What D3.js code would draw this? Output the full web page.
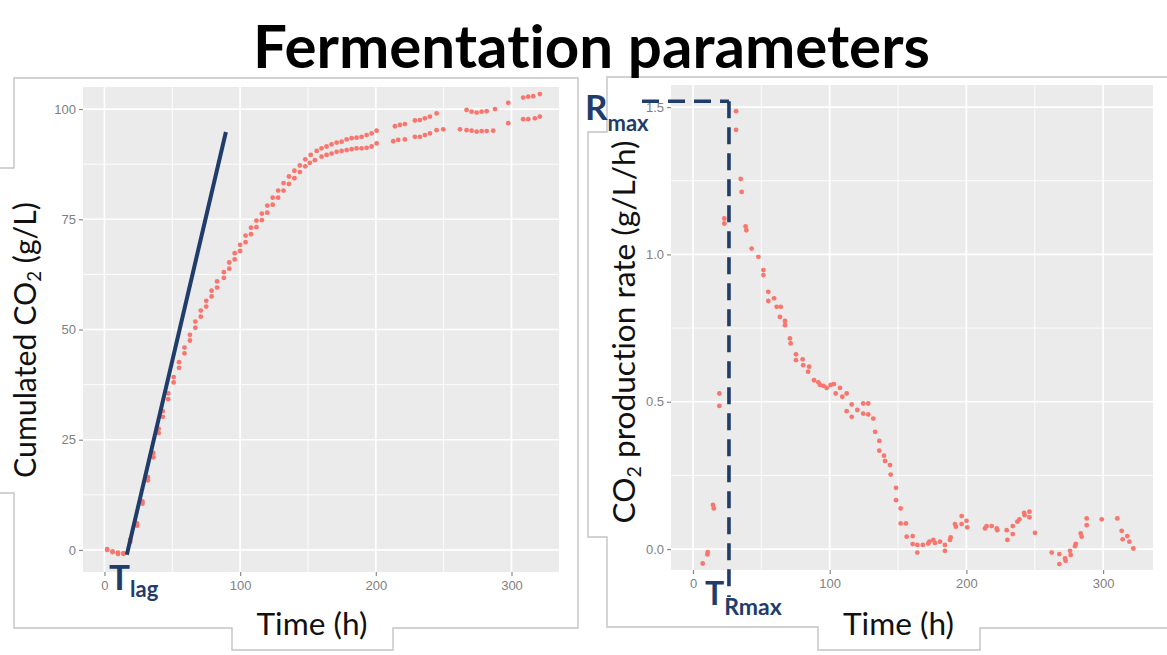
<!DOCTYPE html>
<html><head><meta charset="utf-8">
<script src="https://cdn.jsdelivr.net/npm/d3@7"></script>
<style>html,body{margin:0;padding:0;background:#fff;overflow:hidden} text{font-variant-ligatures:none;font-feature-settings:"liga" 0,"clig" 0}</style>
</head><body>
<svg id="chart" width="1167" height="655"></svg>
<script>
// ---------------- DATA ----------------
const chartTitle = "Fermentation parameters";
// Cumulated CO2 (g/L), replicate 1 (upper at end)
const cumTime1 = [2,6,10,14,19,24,28,32,36,40,43,47,51,55,59,63,67,71,75,79,83,88,92,96,100,104,108,112,116,120,124,128,132,136,140,144,148,152,156.4,160,163.7,167.4,171.1,174.8,178.5,182.2,185.8,189.5,193.2,196.9,200.6,214.1,217.8,221.4,228.8,232.5,236.2,239.9,244.8,266.9,270.6,274.3,278,281.7,287.8,297.6,308.6,312.3,316,320.9];
const cumVal1  = [0.2,-0.3,-0.6,-0.9,2.3,6,11,16.5,22,27.5,31.5,35.5,39.2,42.6,45.9,48.8,51.8,54.3,56.5,58.8,60.9,63,65.2,67.3,69.2,71.3,73.1,74.7,76.3,78.1,79.9,81.5,83.2,84.7,86,87.2,88.6,89.6,90.5,91.1,91.5,92.0,92.4,92.6,93.1,93.4,93.5,93.7,94.1,94.5,95.1,96.1,96.4,96.6,97.4,97.5,97.9,98.3,99.0,99.8,99.4,99.2,99.4,99.5,100.0,101.4,102.6,102.8,102.9,103.4];
// Cumulated CO2 (g/L), replicate 2 (lower at end)
const cumTime2 = [2,6,10,14,19,24,28,32,36,40,43,47,51,55,59,63,67,71,75,79,83,88,92,96,100,104,108,112,116,120,124,128,132,136,140,144,148,151.4,155.1,160,163.7,167.4,171.1,174.8,178.5,182.2,185.8,189.5,193.2,196.9,200.6,212.8,216.5,221.4,228.8,232.5,236.2,239.9,244.8,249.7,262,266.9,270.6,274.3,278,281.7,286.5,297.6,308.6,312.3,317.2,320.9];
const cumVal2  = [0,-0.5,-0.9,-0.7,1.8,5.5,10.5,15.8,21,26.5,30.2,34.2,38,41.3,44.6,47.5,50.4,52.9,55.2,57.5,59.5,61.7,63.8,65.9,67.8,69.8,71.6,73.2,74.8,76.5,78.3,79.9,81.5,83,84.3,85.7,87,87.8,88.4,89.2,89.6,89.9,90.3,90.5,90.7,90.9,91.1,91.1,91.2,91.5,92.2,92.7,93.0,93.1,93.7,93.7,94.1,94.5,95.2,95.4,95.4,95.2,95.1,94.9,95.0,95.0,95.1,96.8,97.7,97.7,97.9,98.3];
// Tangent line for T_lag: [time, value] end points
const lagLineTime = [16.5, 89.5];
const lagLineVal  = [-1.1, 94.8];
// CO2 production rate (g/L/h)
const rateTime = [7.1,10.5,10.8,14.6,15.2,19.3,19.3,22.9,22.9,31.5,31.5,34.9,35.6,38.5,39.0,42.9,47.8,51.5,51.5,55.1,55.1,59.3,61.2,64.2,63.6,67.3,67.3,70.9,71.4,75.3,75.3,80.2,80.6,85.0,84.2,88.5,91.7,92.9,95.4,97.8,100.7,103.1,104.4,107.5,109.2,112.4,112.4,116.1,116.1,120.2,124.5,124.5,128.2,128.2,131.9,133.2,136.3,136.3,139.7,140.5,144.1,144.6,148.5,148.5,151.9,151.9,155.8,156.3,160.7,160.7,164.1,164.1,168.1,172.1,172.9,175.8,177.0,180.7,184.3,184.3,188.0,188.5,191.6,192.3,196.5,196.5,200.1,200.6,213.6,214.8,218.5,222.2,222.6,229.5,230.0,233.9,233.9,237.3,238.8,242.2,242.6,246.1,246.1,250.2,262.4,268.0,268.0,272.2,272.6,275.8,276.3,279.5,280.0,283.6,284.3,288.0,288.0,299.0,310.4,313.6,314.3,317.7,319.2,322.1];
const rateVal  = [-0.049,-0.018,-0.010,0.150,0.138,0.528,0.486,1.122,1.105,1.486,1.423,1.256,1.212,1.095,1.082,1.020,0.992,0.947,0.930,0.873,0.842,0.851,0.822,0.822,0.788,0.774,0.760,0.715,0.698,0.661,0.641,0.644,0.624,0.619,0.602,0.573,0.566,0.557,0.554,0.547,0.557,0.560,0.528,0.547,0.517,0.528,0.468,0.491,0.449,0.472,0.494,0.460,0.494,0.457,0.443,0.398,0.367,0.334,0.317,0.299,0.285,0.253,0.208,0.166,0.138,0.087,0.087,0.042,0.044,0.017,0.014,-0.012,0.014,0.019,0.025,0.031,0.021,0.025,0.014,-0.006,0.031,0.040,0.085,0.076,0.112,0.085,0.096,0.074,0.070,0.078,0.078,0.070,0.064,0.064,0.031,0.078,0.051,0.093,0.101,0.123,0.115,0.127,0.108,0.055,-0.012,-0.017,-0.051,-0.032,-0.040,-0.006,-0.020,0.010,0.018,0.053,0.042,0.104,0.081,0.101,0.104,0.062,0.033,0.044,0.025,0.002];
// Rmax / T_Rmax markers
const rMax = 1.52;
const tRmax = 26.3;
// Axis ticks
const xTicks = [0,100,200,300];
const xMinor = [50,150,250];
const cumTicks = [0,25,50,75,100];
const cumMinor = [12.5,37.5,62.5,87.5];
const rateTicks = [0,0.5,1.0,1.5];
const rateTickLabels = ["0.0","0.5","1.0","1.5"];
const rateMinor = [0.25,0.75,1.25];

// ---------------- DRAW ----------------
const svg = d3.select("#chart");
const NAVY = "#1f3c6b", PT = "#F8766D", BG = "#EBEBEB", FRAME = "#c3c3c3";
const TXTFONT = "Lato, 'Open Sans', sans-serif";
const TICKFONT = "'Liberation Sans', Arial, sans-serif";

// frames (slide boxes)
svg.append("path")
  .attr("d","M14,78 H578 V628 H393 V650 H232 V628 H14 V493 H-2 V168 H14 Z")
  .attr("fill","#fff").attr("stroke",FRAME).attr("stroke-width",1.4);
svg.append("path")
  .attr("d","M607,77 H1172 V628 H980 V650 H818 V627 H607 V537 H588 V132 H607 Z")
  .attr("fill","#fff").attr("stroke",FRAME).attr("stroke-width",1.4);

function panel(cfg){
  const g = svg.append("g");
  const [x0,x1] = cfg.x.range(), [y1,y0] = cfg.y.range();
  g.append("rect").attr("x",x0).attr("y",y0).attr("width",x1-x0).attr("height",y1-y0).attr("fill",BG);
  g.selectAll(".vmin").data(cfg.xMinor).join("line")
    .attr("x1",d=>cfg.x(d)).attr("x2",d=>cfg.x(d)).attr("y1",y0).attr("y2",y1)
    .attr("stroke","#fff").attr("stroke-width",0.9);
  g.selectAll(".hmin").data(cfg.yMinor).join("line")
    .attr("y1",d=>cfg.y(d)).attr("y2",d=>cfg.y(d)).attr("x1",x0).attr("x2",x1)
    .attr("stroke","#fff").attr("stroke-width",0.9);
  g.selectAll(".vmaj").data(cfg.xTicks).join("line")
    .attr("x1",d=>cfg.x(d)).attr("x2",d=>cfg.x(d)).attr("y1",y0).attr("y2",y1)
    .attr("stroke","#fff").attr("stroke-width",1.7);
  g.selectAll(".hmaj").data(cfg.yTicks).join("line")
    .attr("y1",d=>cfg.y(d)).attr("y2",d=>cfg.y(d)).attr("x1",x0).attr("x2",x1)
    .attr("stroke","#fff").attr("stroke-width",1.7);
  const ax = svg.append("g").attr("transform",`translate(0,${y1})`)
    .call(d3.axisBottom(cfg.x).tickValues(cfg.xTicks).tickSize(4).tickPadding(5).tickFormat(d3.format("d")));
  const ay = svg.append("g").attr("transform",`translate(${x0},0)`)
    .call(d3.axisLeft(cfg.y).tickValues(cfg.yTicks).tickSize(4).tickPadding(3).tickFormat((d,i)=>cfg.yLabels[i]));
  [ax,ay].forEach(a=>{
    a.select(".domain").remove();
    a.selectAll(".tick line").attr("stroke","#8a8a8a").attr("stroke-width",1.2);
    a.selectAll(".tick text").attr("fill","#7f7f7f").attr("font-size",13).attr("font-family",TICKFONT);
  });
  return g;
}

// ----- Left panel -----
const xL = d3.scaleLinear().domain([-15.8,335]).range([83,559]);
const yL = d3.scaleLinear().domain([-5,105]).range([572,87]);
const gL = panel({x:xL,y:yL,xTicks,xMinor,yTicks:cumTicks,yMinor:cumMinor,yLabels:cumTicks.map(String)});
const rep1 = cumTime1.map((t,i)=>({t,v:cumVal1[i]}));
const rep2 = cumTime2.map((t,i)=>({t,v:cumVal2[i]}));
gL.selectAll(".p1").data(rep1).join("circle").attr("cx",d=>xL(d.t)).attr("cy",d=>yL(d.v)).attr("r",2.4).attr("fill",PT);
gL.selectAll(".p2").data(rep2).join("circle").attr("cx",d=>xL(d.t)).attr("cy",d=>yL(d.v)).attr("r",2.4).attr("fill",PT);
gL.append("path")
  .attr("d", d3.line().x(d=>xL(d[0])).y(d=>yL(d[1]))(lagLineTime.map((t,i)=>[t,lagLineVal[i]])))
  .attr("stroke",NAVY).attr("stroke-width",4).attr("fill","none");

// ----- Right panel -----
const xR = d3.scaleLinear().domain([-16.1,336.5]).range([671,1153]);
const yR = d3.scaleLinear().domain([-0.071,1.575]).range([570,85]);
const gR = panel({x:xR,y:yR,xTicks,xMinor,yTicks:rateTicks,yMinor:rateMinor,yLabels:rateTickLabels});
const rate = rateTime.map((t,i)=>({t,v:rateVal[i]}));
gR.selectAll(".pr").data(rate).join("circle").attr("cx",d=>xR(d.t)).attr("cy",d=>yR(d.v)).attr("r",2.4).attr("fill",PT);

const dash = svg.append("g").attr("stroke",NAVY).attr("stroke-width",3.6).attr("fill","none").attr("stroke-dasharray","17,9");
dash.append("path").attr("d", d3.line()([[xR(-37.3), yR(rMax)],[xR(tRmax), yR(rMax)]]));
dash.append("path").attr("d", d3.line()([[xR(tRmax), yR(rMax)],[xR(tRmax), yR(-0.163)]]));

// ---------------- TEXT ----------------
function fit(sel, target){
  const len = sel.node().getComputedTextLength();
  const fs = parseFloat(sel.attr("font-size"));
  sel.attr("font-size", fs*target/len);
  return sel;
}
const title = svg.append("text").attr("x",591.5).attr("y",68).attr("text-anchor","middle")
  .attr("font-family",TXTFONT).attr("font-weight","bold").attr("font-size",46).attr("fill","#000").text(chartTitle);
fit(title,677);

function ytitle(x,y,pre,post,len){
  const t = svg.append("text").attr("transform",`translate(${x},${y}) rotate(-90)`).attr("text-anchor","middle")
    .attr("font-family",TXTFONT).attr("font-size",28).attr("fill","#111");
  t.append("tspan").text(pre);
  t.append("tspan").attr("font-size","0.62em").attr("dy","0.28em").text("2");
  t.append("tspan").attr("dy","-0.17em").text(post);
  fit(t,len);
}
ytitle(36,340,"Cumulated CO"," (g/L)",276);
ytitle(635,332,"CO"," production rate (g/L/h)",383);

function xtitle(cx){
  const t = svg.append("text").attr("x",cx).attr("y",635).attr("text-anchor","middle")
    .attr("font-family",TXTFONT).attr("font-size",28).attr("fill","#111").text("Time (h)");
  fit(t,111);
}
xtitle(312); xtitle(898.5);

function label(x,y,big,small,bigSize,smallSize,dy){
  const t = svg.append("text").attr("x",x).attr("y",y).attr("font-family",TXTFONT).attr("font-weight","bold").attr("fill",NAVY);
  t.append("tspan").attr("font-size",bigSize).text(big);
  t.append("tspan").attr("font-size",smallSize).attr("dy",dy).text(small);
}
label(109,590,"T","lag",35,22,7);
label(585,120,"R","max",35,22,11);
label(705,605,"T","Rmax",32,23,10);
</script>
</body></html>
